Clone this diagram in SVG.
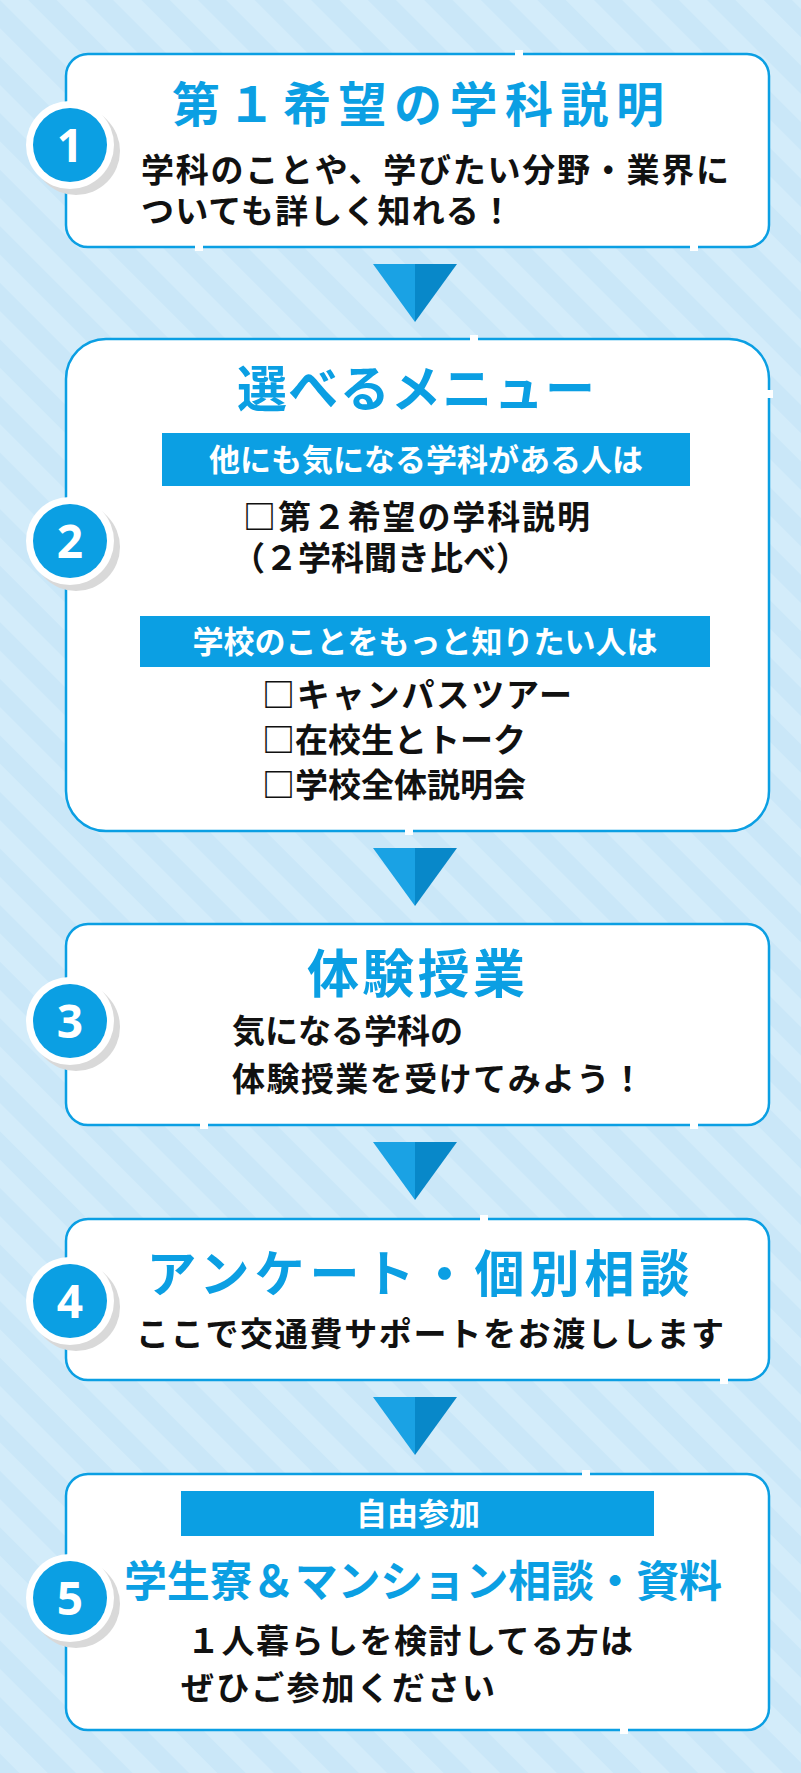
<svg xmlns="http://www.w3.org/2000/svg" width="801" height="1773" viewBox="0 0 801 1773">
<defs>
<pattern id="st" width="40" height="40" patternUnits="userSpaceOnUse" patternTransform="rotate(-45)">
<rect width="40" height="40" fill="#cae7f8"/><rect width="20" height="40" fill="#d3ecfa"/>
</pattern>
<style>
.box{fill:#fff;stroke:#0b9fe3;stroke-width:2.5}
.t{font-family:"Noto Sans CJK JP","Noto Sans",sans-serif;font-weight:bold}
.ttl{fill:#0b9fe3;text-anchor:middle}
.bd{fill:#111;font-size:33px}
.wt{fill:#fff;text-anchor:middle;font-size:31px}
.bar{fill:#0b9fe3}
.gap{fill:#fff}
.num{fill:#fff;font-family:"Open Sans","DejaVu Sans",sans-serif;font-weight:bold;font-size:46px;text-anchor:middle}
</style>
<g id="badge">
<circle cx="6" cy="6" r="44" fill="#d9d9d9"/>
<circle cx="0" cy="0" r="44" fill="#fff"/>
<circle cx="0" cy="0" r="37" fill="#0b9fe3"/>
</g>
<g id="arr"><polygon points="-42,0 0,0 0,58" fill="#1aa2e4"/><polygon points="0,0 42,0 0,58" fill="#0888c9"/></g>
</defs>
<rect width="801" height="1773" fill="url(#st)"/>
<g id="connectors">
<use href="#arr" x="415" y="264"/>
<use href="#arr" x="415" y="848"/>
<use href="#arr" x="415" y="1142"/>
<use href="#arr" x="415" y="1397"/>
</g>
<g id="node1">
<rect class="box" x="66" y="54" width="703" height="193" rx="22"/>
<rect class="gap" x="515" y="50" width="8" height="8"/><rect class="gap" x="195" y="243" width="8" height="8"/><rect class="gap" x="690" y="243" width="8" height="8"/>
<use href="#badge" x="70" y="145"/><text class="num" x="70" y="162">1</text>
<text class="t ttl" x="418" y="122" font-size="48" textLength="492" lengthAdjust="spacing">第１希望の学科説明</text>
<text class="t bd" x="141" y="182" textLength="588" lengthAdjust="spacing">学科のことや、学びたい分野・業界に</text>
<text class="t bd" x="141" y="223" textLength="372" lengthAdjust="spacing">ついても詳しく知れる！</text>
</g>
<g id="node2">
<rect class="box" x="66" y="339" width="703" height="492" rx="40"/>
<rect class="gap" x="470" y="335" width="8" height="8"/><rect class="gap" x="765" y="390" width="8" height="8"/><rect class="gap" x="405" y="827" width="8" height="8"/>
<use href="#badge" x="70" y="541"/><text class="num" x="70" y="558">2</text>
<text class="t ttl" x="416" y="407" font-size="50" textLength="358" lengthAdjust="spacing">選べるメニュー</text>
<rect class="bar" x="162" y="433" width="528" height="53"/>
<text class="t wt" x="426" y="471">他にも気になる学科がある人は</text>
<text class="t bd" x="243" y="529" textLength="347" lengthAdjust="spacing">□第２希望の学科説明</text>
<text class="t bd" x="232" y="570">（２学科聞き比べ）</text>
<rect class="bar" x="140" y="616" width="570" height="51"/>
<text class="t wt" x="425" y="653">学校のことをもっと知りたい人は</text>
<text class="t bd" x="262" y="707" textLength="310" lengthAdjust="spacing">□キャンパスツアー</text>
<text class="t bd" x="262" y="752">□在校生とトーク</text>
<text class="t bd" x="262" y="797">□学校全体説明会</text>
</g>
<g id="node3">
<rect class="box" x="66" y="924" width="703" height="201" rx="22"/>
<rect class="gap" x="200" y="1121" width="8" height="8"/><rect class="gap" x="690" y="1121" width="8" height="8"/>
<use href="#badge" x="70" y="1021"/><text class="num" x="70" y="1038">3</text>
<text class="t ttl" x="416" y="993" font-size="52" textLength="218" lengthAdjust="spacing">体験授業</text>
<text class="t bd" x="232" y="1043">気になる学科の</text>
<text class="t bd" x="232" y="1091" textLength="412" lengthAdjust="spacing">体験授業を受けてみよう！</text>
</g>
<g id="node4">
<rect class="box" x="66" y="1219" width="703" height="161" rx="22"/>
<rect class="gap" x="480" y="1215" width="8" height="8"/><rect class="gap" x="720" y="1376" width="8" height="8"/>
<use href="#badge" x="70" y="1301"/><text class="num" x="70" y="1318">4</text>
<text class="t ttl" x="418" y="1292" font-size="50" textLength="543" lengthAdjust="spacing">アンケート・個別相談</text>
<text class="t bd" x="136" y="1346" textLength="588" lengthAdjust="spacing">ここで交通費サポートをお渡しします</text>
</g>
<g id="node5">
<rect class="box" x="66" y="1474" width="703" height="256" rx="22"/>
<rect class="gap" x="582" y="1470" width="8" height="8"/><rect class="gap" x="620" y="1726" width="8" height="8"/>
<use href="#badge" x="70" y="1598"/><text class="num" x="70" y="1615">5</text>
<rect class="bar" x="181" y="1491" width="473" height="45"/>
<text class="t wt" x="418" y="1525">自由参加</text>
<text class="t ttl" x="423" y="1597" font-size="43" textLength="598" lengthAdjust="spacing">学生寮＆マンション相談・資料</text>
<text class="t bd" x="187" y="1653" textLength="446" lengthAdjust="spacing">１人暮らしを検討してる方は</text>
<text class="t bd" x="181" y="1700" textLength="314" lengthAdjust="spacing">ぜひご参加ください</text>
</g>
</svg>
